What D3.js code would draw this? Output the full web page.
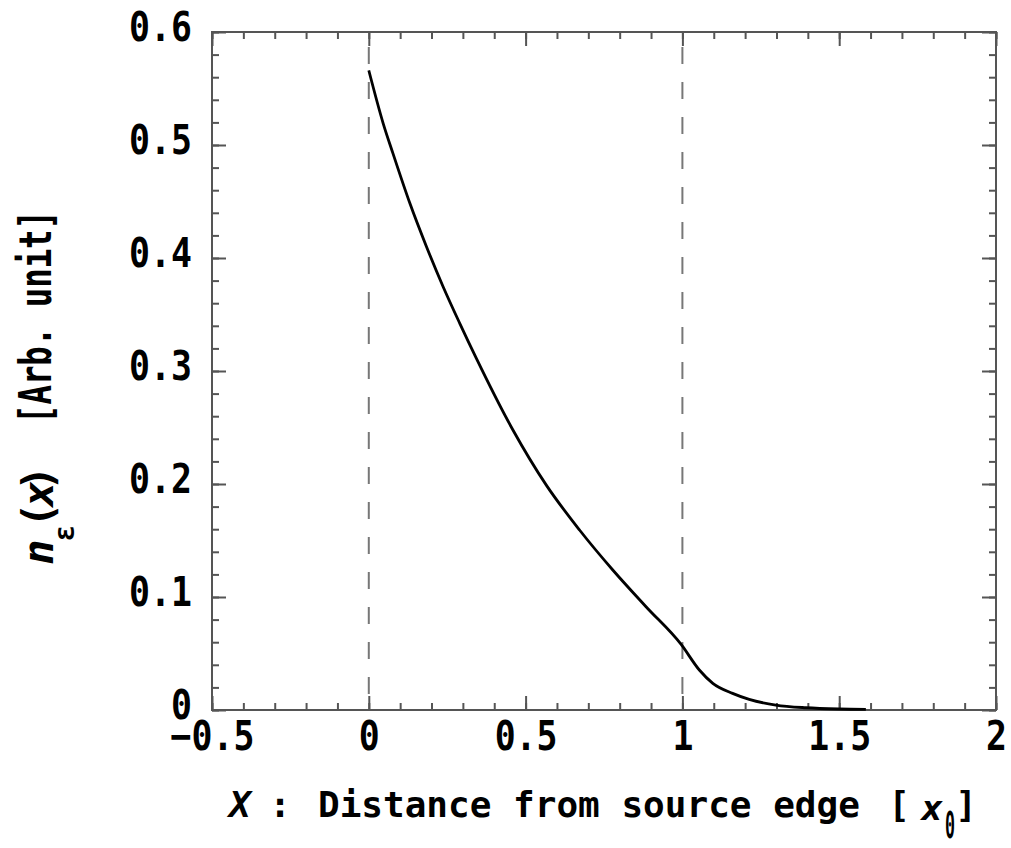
<!DOCTYPE html>
<html><head><meta charset="utf-8">
<script src="https://cdn.jsdelivr.net/npm/d3@7"></script>
<style>html,body{margin:0;padding:0;background:#fff;} svg{display:block}</style>
</head><body><svg id="c" width="1011" height="848"></svg>
<script>
// ---- data ----
const xValues = [0, 0.046, 0.077, 0.131, 0.184, 0.237, 0.290, 0.343, 0.4596, 0.566, 0.672, 0.778, 0.884, 0.996, 1.054, 1.097, 1.160, 1.213, 1.298, 1.394, 1.5, 1.585];
const yValues = [0.566, 0.519, 0.4926, 0.4484, 0.410, 0.3746, 0.3422, 0.3112, 0.2478, 0.199, 0.1593, 0.1239, 0.0914, 0.058, 0.0354, 0.0236, 0.0147, 0.0094, 0.0044, 0.002, 0.0009, 0.0006];
const xTicks = [-0.5, 0, 0.5, 1, 1.5, 2];
const xTickLabels = ["\u22120.5", "0", "0.5", "1", "1.5", "2"];
const xMinorTicks = d3.range(-5, 21).map(i => i / 10);
const yTicks = [0, 0.1, 0.2, 0.3, 0.4, 0.5, 0.6];
const yTickLabels = ["0", "0.1", "0.2", "0.3", "0.4", "0.5", "0.6"];
const yMinorTicks = d3.range(0, 31).map(i => i / 50);
const markerLines = [0, 1];
const xDomain = [-0.5, 2];
const yDomain = [0, 0.6];

// ---- layout ----
const L = 212, R = 996, T = 32, B = 710;
const svg = d3.select("#c");
const x = d3.scaleLinear().domain(xDomain).range([L, R]);
const y = d3.scaleLinear().domain(yDomain).range([B, T]);
const axisColor = "#555";
const mono = "'DejaVu Sans Mono', 'Liberation Mono', monospace";
const SX = 0.85;

// dashed markers
svg.append("g").selectAll("line").data(markerLines).join("line")
  .attr("x1", d => x(d)).attr("x2", d => x(d))
  .attr("y1", T).attr("y2", B)
  .attr("stroke", "#777").attr("stroke-width", 2)
  .attr("stroke-dasharray", "17,18").attr("stroke-dashoffset", 20);

function styleAxis(g) {
  g.select(".domain").remove();
  g.selectAll(".tick line").attr("stroke", axisColor).attr("stroke-width", 2);
}
// bottom
svg.append("g").attr("transform", `translate(0,${B})`)
  .call(d3.axisBottom(x).tickValues(xMinorTicks).tickSize(-7).tickFormat(""))
  .call(styleAxis);
const bx = svg.append("g").attr("transform", `translate(0,${B})`)
  .call(d3.axisBottom(x).tickValues(xTicks).tickSize(-14)
    .tickFormat((d, i) => xTickLabels[i]))
  .call(styleAxis);
bx.selectAll(".tick text")
  .attr("y", 40).attr("dy", null)
  .attr("font-family", mono).attr("font-size", 41).attr("font-weight", "bold")
  .attr("fill", "#000").attr("text-anchor", "middle")
  .attr("transform", `scale(${SX},1)`);
// top
svg.append("g").attr("transform", `translate(0,${T})`)
  .call(d3.axisTop(x).tickValues(xMinorTicks).tickSize(-7).tickFormat(""))
  .call(styleAxis);
svg.append("g").attr("transform", `translate(0,${T})`)
  .call(d3.axisTop(x).tickValues(xTicks).tickSize(-14).tickFormat(""))
  .call(styleAxis);
// left
svg.append("g").attr("transform", `translate(${L},0)`)
  .call(d3.axisLeft(y).tickValues(yMinorTicks).tickSize(-7).tickFormat(""))
  .call(styleAxis);
const ly = svg.append("g").attr("transform", `translate(${L},0)`)
  .call(d3.axisLeft(y).tickValues(yTicks).tickSize(-14)
    .tickFormat((d, i) => yTickLabels[i]))
  .call(styleAxis);
ly.selectAll(".tick text")
  .attr("x", -20 / SX).attr("y", 8).attr("dy", null)
  .attr("font-family", mono).attr("font-size", 41).attr("font-weight", "bold")
  .attr("fill", "#000").attr("text-anchor", "end")
  .attr("transform", `scale(${SX},1)`);
// right
svg.append("g").attr("transform", `translate(${R},0)`)
  .call(d3.axisRight(y).tickValues(yMinorTicks).tickSize(-7).tickFormat(""))
  .call(styleAxis);
svg.append("g").attr("transform", `translate(${R},0)`)
  .call(d3.axisRight(y).tickValues(yTicks).tickSize(-14).tickFormat(""))
  .call(styleAxis);

// frame
svg.append("rect").attr("x", L).attr("y", T).attr("width", R - L).attr("height", B - T)
  .attr("fill", "none").attr("stroke", axisColor).attr("stroke-width", 2);

// curve
const pts = xValues.map((v, i) => [v, yValues[i]]);
svg.append("path").datum(pts)
  .attr("fill", "none").attr("stroke", "#000").attr("stroke-width", 2.8)
  .attr("stroke-linejoin", "round")
  .attr("d", d3.line().x(d => x(d[0])).y(d => y(d[1])).curve(d3.curveMonotoneX));

// x title
const xt = svg.append("g").attr("font-family", mono).attr("font-weight", "bold").attr("fill", "#000");
xt.append("text").attr("x", 240).attr("y", 817).attr("font-size", 36).attr("font-style", "italic")
  .attr("text-anchor", "middle").text("X");
xt.append("text").attr("x", 280).attr("y", 817).attr("font-size", 36)
  .attr("text-anchor", "middle").text(":");
xt.append("text").attr("x", 318).attr("y", 817).attr("font-size", 36)
  .text("Distance from source edge");
xt.append("text").attr("x", 899).attr("y", 817).attr("font-size", 36)
  .attr("text-anchor", "middle").text("[");
xt.append("text").attr("x", 932).attr("y", 820).attr("font-size", 36).attr("font-style", "italic")
  .attr("text-anchor", "middle").text("x");
xt.append("text").attr("transform", "translate(950,838) scale(0.45,1)").attr("font-size", 37)
  .attr("text-anchor", "middle").text("0");
xt.append("text").attr("x", 966).attr("y", 817).attr("font-size", 36)
  .attr("text-anchor", "middle").text("]");

// y title (rotated)
const yt = svg.append("g").attr("transform", "translate(53,565) rotate(-90)")
  .attr("font-family", mono).attr("font-weight", "bold").attr("fill", "#000");
yt.append("text").attr("x", 13).attr("y", 0).attr("font-size", 42).attr("font-style", "italic")
  .attr("text-anchor", "middle").text("n");
yt.append("text").attr("x", 32).attr("y", 21).attr("font-size", 28)
  .attr("text-anchor", "middle").text("ε");
yt.append("text").attr("x", 50).attr("y", 0).attr("font-size", 42)
  .attr("text-anchor", "middle").text("(");
yt.append("text").attr("x", 71).attr("y", 0).attr("font-size", 42).attr("font-style", "italic")
  .attr("text-anchor", "middle").text("x");
yt.append("text").attr("x", 87).attr("y", 0).attr("font-size", 42)
  .attr("text-anchor", "middle").text(")");
yt.append("text").attr("x", 141).attr("y", -2).attr("font-size", 44)
  .attr("textLength", 214).attr("lengthAdjust", "spacingAndGlyphs").text("[Arb. unit]");
</script>
</body></html>
